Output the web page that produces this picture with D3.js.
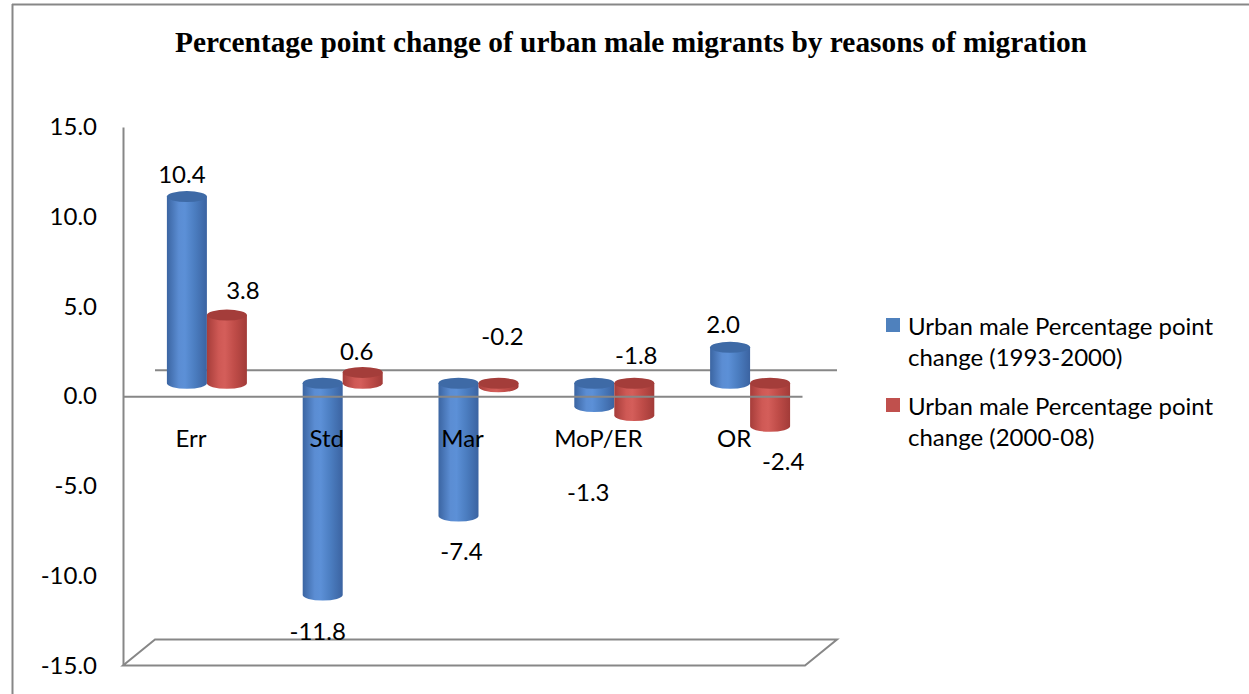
<!DOCTYPE html>
<html>
<head>
<meta charset="utf-8">
<script src="https://cdn.jsdelivr.net/npm/d3@7"></script>
<style>
  body { margin: 0; background: #fff; }
  text { font-family: Lato, "Open Sans", sans-serif; fill: #000; }
</style>
</head>
<body>
<div id="chart"></div>
<script>
// datos del grafico
const categories = ["Err", "Std", "Mar", "MoP/ER", "OR"];
const change9300 = [10.4, -11.8, -7.4, -1.3, 2.0];
const change0008 = [3.8, 0.6, -0.2, -1.8, -2.4];
const seriesNames = [
  "Urban male Percentage point change (1993-2000)",
  "Urban male Percentage point change (2000-08)",
];
const yTicks = [-15, -10, -5, 0, 5, 10, 15];
const title = "Percentage point change of urban male migrants by reasons of migration";

// ajuste manual de las etiquetas de valor (px, respecto al extremo de la barra)
const nudge9300 = [[-5, -22], [-5, 37], [3, 36], [-6, 86], [-7, -23]];
const nudge0008 = [[16, -24], [-6, -21], [4, -50], [2, -60], [13, 35]];

const width = 1249;
const height = 694;
const depth = { dx: 32, dy: -26 }; // profundidad del efecto 3d
const barW = 40;
const ry = 5.5;
const grey = "#878787";
const fontSize = "24px";

const svg = d3
  .select("#chart")
  .append("svg")
  .attr("width", width)
  .attr("height", height);

// degradados de los cilindros
const defs = svg.append("defs");
const gradients = [
  { id: "gBlue", stops: ["#3b65a2", "#5b8dd3", "#5c90d7", "#4b7dc0", "#3b63a1"] },
  { id: "gRed", stops: ["#a63d3a", "#cf5955", "#d45e5a", "#bf4c48", "#a23b38"] },
];
gradients.forEach((g) => {
  const lg = defs.append("linearGradient").attr("id", g.id);
  g.stops.forEach((c, i) =>
    lg.append("stop").attr("offset", [0, 0.3, 0.45, 0.7, 1][i]).attr("stop-color", c)
  );
});
const capColor = ["#3e6aa6", "#a43d3a"];
const legendColor = ["#4f81bd", "#c0504d"];

// marco exterior
svg.append("line").attr("x1", 12).attr("y1", 4.5).attr("x2", width).attr("y2", 4.5)
  .attr("stroke", grey).attr("stroke-width", 2);
svg.append("line").attr("x1", 12.5).attr("y1", 4).attr("x2", 12.5).attr("y2", height)
  .attr("stroke", grey).attr("stroke-width", 2);

// titulo
const titleText = svg
  .append("text")
  .attr("x", 631)
  .attr("y", 52)
  .attr("text-anchor", "middle")
  .style("font-family", '"Liberation Serif", "Times New Roman", serif')
  .style("font-weight", "bold")
  .style("font-size", "28px")
  .text(title);
const tw = titleText.node().getComputedTextLength();
titleText.style("font-size", `${(28 * 912) / tw}px`);

// escalas
const x = d3.scaleBand().domain(categories).range([123, 802]);
const x1 = d3.scaleBand().domain([0, 1]).range([-barW, barW]);
const y = d3.scaleLinear().domain([-15, 15]).range([665.5, 127]);

// suelo en -15
const f0 = y(-15);
const floorPts = [
  [123, f0],
  [802 + 3, f0],
  [802 + 3 + depth.dx, f0 + depth.dy],
  [123 + depth.dx, f0 + depth.dy],
];
svg.append("path")
  .attr("d", d3.line()(floorPts) + "Z")
  .attr("fill", "#fff")
  .attr("stroke", grey)
  .attr("stroke-width", 2);

// linea de cero trasera
svg.append("line")
  .attr("x1", 123 + depth.dx).attr("x2", 802 + depth.dx + 3)
  .attr("y1", y(0) + depth.dy).attr("y2", y(0) + depth.dy)
  .attr("stroke", grey).attr("stroke-width", 2);

// eje y
const yAxis = svg
  .append("g")
  .attr("transform", "translate(123,0)")
  .call(
    d3.axisLeft(y).tickValues(yTicks).tickSize(0).tickPadding(26)
      .tickFormat((d) => d.toFixed(1))
  );
yAxis.select(".domain").attr("stroke", grey).attr("stroke-width", 2);
yAxis.selectAll("text").style("font-size", fontSize).style("font-family", "Lato");

// cilindros
const yMid = (v) => y(v) + depth.dy / 2;
const bars = [];
categories.forEach((c, i) => {
  [change9300[i], change0008[i]].forEach((v, s) => {
    const cx = x(c) + x.bandwidth() / 2 + depth.dx / 2 + x1(s) + barW / 2;
    bars.push({ c, s, v, cx, nudge: [nudge9300, nudge0008][s][i] });
  });
});

const cyl = svg
  .selectAll("g.cyl")
  .data(bars)
  .join("g")
  .attr("class", "cyl");

cyl.append("path")
  .attr("d", (d) => {
    const top = Math.min(yMid(d.v), yMid(0));
    const bot = Math.max(yMid(d.v), yMid(0));
    const r = barW / 2;
    return `M${d.cx - r},${top} L${d.cx - r},${bot} A${r},${ry} 0 0 0 ${d.cx + r},${bot} L${d.cx + r},${top} Z`;
  })
  .attr("fill", (d) => `url(#${gradients[d.s].id})`);

cyl.append("ellipse")
  .attr("cx", (d) => d.cx)
  .attr("cy", (d) => Math.min(yMid(d.v), yMid(0)))
  .attr("rx", barW / 2)
  .attr("ry", ry)
  .attr("fill", (d) => capColor[d.s]);

// eje x (linea de cero delantera)
const xAxis = svg
  .append("g")
  .attr("transform", `translate(0,${y(0)})`)
  .call(d3.axisBottom(x).tickSize(0));
xAxis.select(".domain").attr("stroke", grey).attr("stroke-width", 2);
xAxis.selectAll("text")
  .attr("y", 42)
  .attr("dy", "0.35em")
  .style("font-size", fontSize)
  .style("font-family", "Lato");

// etiquetas de valor
svg
  .selectAll("text.value")
  .data(bars)
  .join("text")
  .attr("class", "value")
  .attr("x", (d) => d.cx + d.nudge[0])
  .attr("y", (d) => yMid(d.v) + d.nudge[1])
  .attr("dy", "0.35em")
  .attr("text-anchor", "middle")
  .style("font-size", fontSize)
  .text((d) => d.v.toFixed(1));

// leyenda
const legend = svg
  .selectAll("g.legend")
  .data(seriesNames)
  .join("g")
  .attr("class", "legend")
  .attr("transform", (_, i) => `translate(886, ${318 + i * 80})`);

legend.append("rect")
  .attr("width", 14)
  .attr("height", 14)
  .attr("fill", (_, i) => legendColor[i]);

legend.append("text")
  .attr("x", 22)
  .attr("y", 9)
  .style("font-size", fontSize)
  .each(function (d) {
    const k = d.indexOf("change");
    const lines = [d.slice(0, k).trim(), d.slice(k)];
    d3.select(this).selectAll("tspan")
      .data(lines)
      .join("tspan")
      .attr("x", 22)
      .attr("dy", (_, j) => (j === 0 ? "0.35em" : "31px"))
      .text((t) => t);
  });
</script>
</body>
</html>
